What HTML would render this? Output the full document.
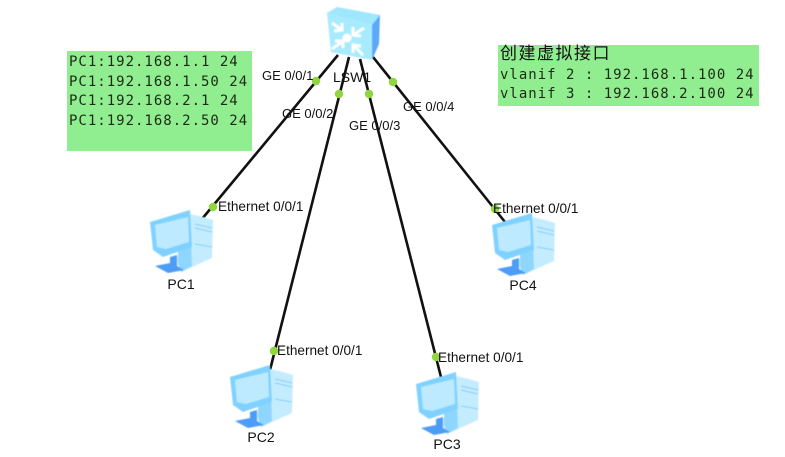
<!DOCTYPE html>
<html>
<head>
<meta charset="utf-8">
<style>
html,body{margin:0;padding:0;background:#fff}
svg{display:block}
.m{font-family:"DejaVu Sans Mono","Liberation Mono",monospace;font-size:14px;letter-spacing:1px;fill:#1c2a14}
.l{font-family:"Liberation Sans",sans-serif;font-size:13px;fill:#111}
.e{font-family:"Liberation Sans",sans-serif;font-size:13.6px;fill:#111}
.p{font-family:"Liberation Sans",sans-serif;font-size:14px;fill:#111;text-anchor:middle}
</style>
</head>
<body>
<svg width="785" height="457" viewBox="0 0 785 457" xmlns="http://www.w3.org/2000/svg">
<defs>
<filter id="b" x="-10%" y="-10%" width="120%" height="120%"><feGaussianBlur stdDeviation="0.45"/></filter>
<g id="pc" filter="url(#b)">
<path d="M190 214L203 217L213 220L212 258L181 272L176 262Z" fill="#c4ecff"/>
<path d="M190 214L178 220V262L181 272L192 266Z" fill="#8fd6ff"/>
<path d="M195 224L212 228M195 228L212 232M195 244L212 247" stroke="#84cdf7" stroke-width="1" fill="none"/>
<path d="M150 222L190 210L192 247L163 257L153 250Z" fill="#7fd2ff"/>
<path d="M155 225L188 217L189 242L166 249L157 247Z" fill="#bdeaff"/>
<path d="M170 257L177 255L177 266L184 270L168 273L155 266L170 263Z" fill="#4d9cf5"/>
</g>
</defs>

<rect x="67" y="51" width="185" height="100" fill="#90ee90"/>
<rect x="498" y="45" width="261" height="61" fill="#90ee90"/>

<g stroke="#111" stroke-width="2.6" fill="none">
<line x1="338" y1="55" x2="197" y2="225"/>
<line x1="349" y1="57" x2="270" y2="370"/>
<line x1="360" y1="59" x2="441" y2="377"/>
<line x1="373" y1="57" x2="505" y2="222"/>
</g>

<!-- Switch -->
<g filter="url(#b)">
<path d="M327 13L337 7L380 15L372 25Z" fill="#9fe6ff"/>
<path d="M372 25L380 15L379 44L372 60Z" fill="#5ba8fb"/>
<path d="M327 13L372 25L372 60L331 52Z" fill="#a8ebff"/>
<g stroke="#fff" stroke-width="3" fill="none">
<path d="M332 23L342 30M334 31L342 30L342 23"/>
<path d="M364 28L353 35M353 27L353 35L361 36"/>
<path d="M332 49L343 41M335 41L343 41V48"/>
<path d="M363 55L353 45M353 53V45L361 46"/>
</g>
<circle cx="347" cy="38" r="4.5" fill="#fff"/>
</g>

<use href="#pc"/>
<use href="#pc" transform="translate(80,155)"/>
<use href="#pc" transform="translate(266,162)"/>
<use href="#pc" transform="translate(342,3)"/>

<g fill="#8fd63f">
<circle cx="316" cy="81" r="4.2"/>
<circle cx="339" cy="94" r="4.2"/>
<circle cx="369" cy="94" r="4.2"/>
<circle cx="393" cy="82" r="4.2"/>
<circle cx="213" cy="207" r="4.2"/>
<circle cx="274" cy="351" r="4.2"/>
<circle cx="436" cy="357" r="4.2"/>
<circle cx="495" cy="209" r="4.2"/>
</g>

<text class="m" x="69" y="66">PC1:192.168.1.1 24</text>
<text class="m" x="69" y="86">PC1:192.168.1.50 24</text>
<text class="m" x="69" y="105">PC1:192.168.2.1 24</text>
<text class="m" x="69" y="125">PC1:192.168.2.50 24</text>

<text x="500" y="59" font-family="'Noto Sans CJK SC','WenQuanYi Zen Hei',sans-serif" font-size="17" letter-spacing="1.5" fill="#111">创建虚拟接口</text>
<text class="m" x="500" y="79">vlanif 2 : 192.168.1.100 24</text>
<text class="m" x="500" y="98">vlanif 3 : 192.168.2.100 24</text>

<text class="l" x="262" y="80">GE 0/0/1</text>
<text class="l" x="282" y="118">GE 0/0/2</text>
<text class="l" x="349" y="130">GE 0/0/3</text>
<text class="l" x="403" y="111">GE 0/0/4</text>
<text class="l" x="333" y="82" style="font-size:14px">LSW1</text>
<text class="e" x="218" y="211">Ethernet 0/0/1</text>
<text class="e" x="277" y="355">Ethernet 0/0/1</text>
<text class="e" x="438" y="362">Ethernet 0/0/1</text>
<text class="e" x="493" y="213">Ethernet 0/0/1</text>

<text class="p" x="181" y="289">PC1</text>
<text class="p" x="261" y="442">PC2</text>
<text class="p" x="447" y="449">PC3</text>
<text class="p" x="523" y="290">PC4</text>
</svg>
</body>
</html>
